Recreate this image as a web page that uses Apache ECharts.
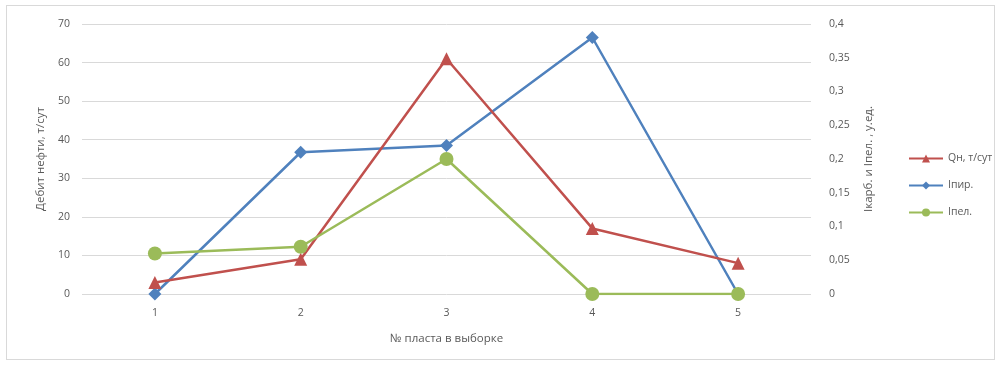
<!DOCTYPE html>
<html>
<head>
<meta charset="utf-8">
<script src="https://cdn.jsdelivr.net/npm/echarts@6/dist/echarts.min.js"></script>
<style>
html,body{margin:0;padding:0;background:#fff;}
#frame{position:absolute;left:6px;top:5px;width:989px;height:355px;border:1px solid #d9d9d9;box-sizing:border-box;}
#chart{width:1003px;height:367px;}
</style>
</head>
<body>
<div id="frame"></div>
<div id="chart"></div>
<script>
// Sample layers and measured values
const categories = ['1', '2', '3', '4', '5'];
const qOil = [3, 9, 61, 17, 8];          // Qн, т/сут (left axis)
const iPir = [0, 0.21, 0.22, 0.38, 0];   // Iпир. (right axis)
const iPel = [0.06, 0.07, 0.2, 0, 0];    // Iпел. (right axis)
const seriesNames = ['Qн, т/сут', 'Iпир.', 'Iпел.'];

const txt = '#595959';
const font = 'Open Sans';
const chart = echarts.init(document.getElementById('chart'));
chart.setOption({
  animation: false,
  textStyle: { fontFamily: font },
  grid: { left: 82, right: 192, top: 24, bottom: 73 },
  legend: {
    orient: 'vertical',
    left: 903,
    top: 148,
    itemGap: 16,
    itemWidth: 34,
    itemHeight: 10,
    textStyle: { color: txt, fontSize: 10.5, fontFamily: font },
    data: seriesNames
  },
  xAxis: {
    type: 'category',
    data: categories,
    name: '№ пласта в выборке',
    nameLocation: 'middle',
    nameGap: 39,
    nameTextStyle: { color: txt, fontSize: 11.5 },
    axisLine: { show: false },
    axisTick: { show: false },
    axisLabel: { color: txt, fontSize: 10.5, margin: 14 }
  },
  yAxis: [
    {
      type: 'value', min: 0, max: 70, interval: 10,
      name: 'Дебит нефти, т/сут',
      nameLocation: 'middle',
      nameGap: 32,
      nameTextStyle: { color: txt, fontSize: 11.5 },
      axisLabel: { color: txt, fontSize: 10.5, margin: 12 },
      splitLine: { lineStyle: { color: '#d9d9d9', width: 1 } },
      axisLine: { show: false }, axisTick: { show: false }
    },
    {
      type: 'value', min: 0, max: 0.4, interval: 0.05,
      name: 'Iкарб. и Iпел. , у.ед.',
      nameLocation: 'middle',
      nameGap: 52,
      nameRotate: 90,
      nameTextStyle: { color: txt, fontSize: 11.5 },
      axisLabel: {
        color: txt, fontSize: 10.5, margin: 18,
        formatter: v => String(+v.toFixed(2)).replace('.', ',')
      },
      splitLine: { show: false },
      axisLine: { show: false }, axisTick: { show: false }
    }
  ],
  series: [
    {
      name: seriesNames[0], type: 'line', yAxisIndex: 0, data: qOil,
      symbol: 'triangle', symbolSize: 13,
      lineStyle: { color: '#c0504d', width: 2.5 },
      itemStyle: { color: '#c0504d' }, z: 3
    },
    {
      name: seriesNames[1], type: 'line', yAxisIndex: 1, data: iPir,
      symbol: 'diamond', symbolSize: 13,
      lineStyle: { color: '#4f81bd', width: 2.5 },
      itemStyle: { color: '#4f81bd' }, z: 2
    },
    {
      name: seriesNames[2], type: 'line', yAxisIndex: 1, data: iPel,
      symbol: 'circle', symbolSize: 14,
      lineStyle: { color: '#9bbb59', width: 2.5 },
      itemStyle: { color: '#9bbb59' }, z: 4
    }
  ]
});
</script>
</body>
</html>
